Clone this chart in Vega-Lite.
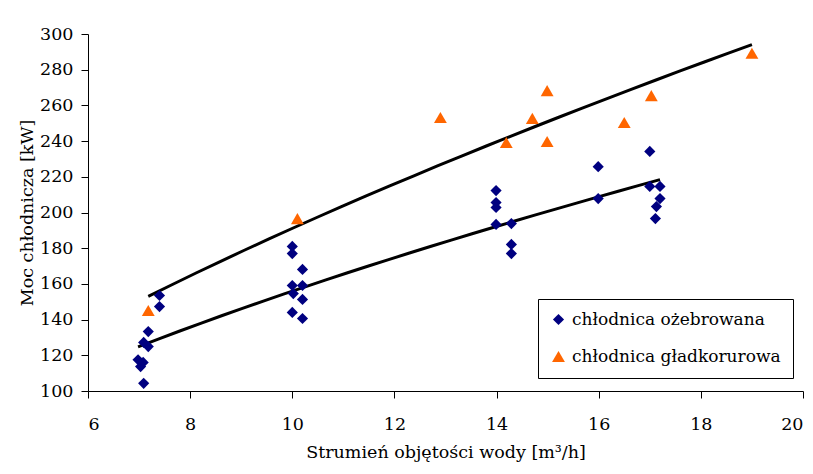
{
  "$schema": "https://vega.github.io/schema/vega-lite/v6.json",
  "width": 715,
  "height": 357,
  "autosize": {"type": "none"},
  "padding": {"left": 88, "top": 34, "right": 10, "bottom": 83},
  "background": "white",
  "config": {
    "view": {"stroke": null},
    "font": "DejaVu Serif",
    "axis": {
      "grid": false,
      "domainColor": "black",
      "tickColor": "black",
      "labelColor": "black",
      "titleColor": "black",
      "labelFont": "DejaVu Serif",
      "titleFont": "DejaVu Serif",
      "labelFontSize": 17.5,
      "titleFontSize": 17.5,
      "titleFontWeight": "normal",
      "tickSize": 7,
      "domainWidth": 1,
      "tickWidth": 1,
      "labelOverlap": false
    },
    "legend": {
      "labelFont": "DejaVu Serif",
      "labelFontSize": 17,
      "labelColor": "black",
      "labelLimit": 0
    }
  },
  "data": {
    "values": [
      {"x": 6.98, "y": 117.5, "seria": "chłodnica ożebrowana"},
      {"x": 7.08, "y": 116, "seria": "chłodnica ożebrowana"},
      {"x": 7.03, "y": 113.7, "seria": "chłodnica ożebrowana"},
      {"x": 7.09, "y": 104.3, "seria": "chłodnica ożebrowana"},
      {"x": 7.18, "y": 133.3, "seria": "chłodnica ożebrowana"},
      {"x": 7.09, "y": 127.2, "seria": "chłodnica ożebrowana"},
      {"x": 7.18, "y": 124.9, "seria": "chłodnica ożebrowana"},
      {"x": 7.4, "y": 153.5, "seria": "chłodnica ożebrowana"},
      {"x": 7.4, "y": 147.3, "seria": "chłodnica ożebrowana"},
      {"x": 10.2, "y": 168.1, "seria": "chłodnica ożebrowana"},
      {"x": 10.0, "y": 159.1, "seria": "chłodnica ożebrowana"},
      {"x": 10.2, "y": 159.1, "seria": "chłodnica ożebrowana"},
      {"x": 10.02, "y": 154.6, "seria": "chłodnica ożebrowana"},
      {"x": 10.2, "y": 151.3, "seria": "chłodnica ożebrowana"},
      {"x": 10.0, "y": 144, "seria": "chłodnica ożebrowana"},
      {"x": 10.2, "y": 140.6, "seria": "chłodnica ożebrowana"},
      {"x": 10.0, "y": 181, "seria": "chłodnica ożebrowana"},
      {"x": 10.0, "y": 177, "seria": "chłodnica ożebrowana"},
      {"x": 13.99, "y": 212.3, "seria": "chłodnica ożebrowana"},
      {"x": 13.99, "y": 205.6, "seria": "chłodnica ożebrowana"},
      {"x": 13.99, "y": 202.8, "seria": "chłodnica ożebrowana"},
      {"x": 13.99, "y": 193.3, "seria": "chłodnica ożebrowana"},
      {"x": 14.29, "y": 193.8, "seria": "chłodnica ożebrowana"},
      {"x": 14.29, "y": 182.1, "seria": "chłodnica ożebrowana"},
      {"x": 14.29, "y": 177, "seria": "chłodnica ożebrowana"},
      {"x": 15.99, "y": 225.7, "seria": "chłodnica ożebrowana"},
      {"x": 15.99, "y": 207.8, "seria": "chłodnica ożebrowana"},
      {"x": 17.0, "y": 234.2, "seria": "chłodnica ożebrowana"},
      {"x": 17.0, "y": 214.6, "seria": "chłodnica ożebrowana"},
      {"x": 17.2, "y": 214.6, "seria": "chłodnica ożebrowana"},
      {"x": 17.2, "y": 207.8, "seria": "chłodnica ożebrowana"},
      {"x": 17.13, "y": 203.3, "seria": "chłodnica ożebrowana"},
      {"x": 17.11, "y": 196.6, "seria": "chłodnica ożebrowana"},
      {"x": 7.18, "y": 145.1, "seria": "chłodnica gładkorurowa"},
      {"x": 10.1, "y": 196.6, "seria": "chłodnica gładkorurowa"},
      {"x": 12.9, "y": 253.2, "seria": "chłodnica gładkorurowa"},
      {"x": 14.99, "y": 268.3, "seria": "chłodnica gładkorurowa"},
      {"x": 14.7, "y": 252.7, "seria": "chłodnica gładkorurowa"},
      {"x": 14.19, "y": 239.2, "seria": "chłodnica gładkorurowa"},
      {"x": 14.99, "y": 239.8, "seria": "chłodnica gładkorurowa"},
      {"x": 17.03, "y": 265.5, "seria": "chłodnica gładkorurowa"},
      {"x": 16.5, "y": 250.4, "seria": "chłodnica gładkorurowa"},
      {"x": 19.0, "y": 289.2, "seria": "chłodnica gładkorurowa"}
    ]
  },
  "layer": [
    {
      "transform": [{"regression": "y", "on": "x", "groupby": ["seria"], "method": "pow"}],
      "mark": {"type": "line", "color": "black", "strokeWidth": 3},
      "encoding": {
        "x": {"field": "x", "type": "quantitative", "scale": {"domain": [6, 20]}},
        "y": {"field": "y", "type": "quantitative", "scale": {"domain": [100, 300]}},
        "detail": {"field": "seria", "type": "nominal"}
      }
    },
    {
      "mark": {"type": "point", "filled": true, "opacity": 1},
      "encoding": {
        "x": {
          "field": "x",
          "type": "quantitative",
          "scale": {"domain": [6, 20], "nice": false, "zero": false},
          "axis": {
            "values": [6, 8, 10, 12, 14, 16, 18, 20],
            "title": "Strumień objętości wody [m³/h]",
            "labelPadding": 17,
            "titlePadding": 11,
            "labelOverlap": false
          }
        },
        "y": {
          "field": "y",
          "type": "quantitative",
          "scale": {"domain": [100, 300], "nice": false, "zero": false},
          "axis": {
            "values": [100, 120, 140, 160, 180, 200, 220, 240, 260, 280, 300],
            "tickCount": 11,
            "title": "Moc chłodnicza [kW]",
            "labelPadding": 8,
            "titlePadding": 3,
            "labelOverlap": false,
            "labelSeparation": 0
          }
        },
        "color": {
          "field": "seria",
          "type": "nominal",
          "scale": {
            "domain": ["chłodnica ożebrowana", "chłodnica gładkorurowa"],
            "range": ["#000080", "#FF6600"]
          },
          "legend": {
            "title": null,
            "orient": "none",
            "legendX": 450,
            "legendY": 265,
            "strokeColor": "black",
            "fillColor": "white",
            "padding": 12,
            "rowPadding": 18,
            "symbolSize": 100,
            "symbolOpacity": 1,
            "labelOffset": 5
          }
        },
        "shape": {
          "field": "seria",
          "type": "nominal",
          "scale": {
            "domain": ["chłodnica ożebrowana", "chłodnica gładkorurowa"],
            "range": ["diamond", "triangle-up"]
          }
        },
        "size": {
          "field": "seria",
          "type": "nominal",
          "scale": {
            "domain": ["chłodnica ożebrowana", "chłodnica gładkorurowa"],
            "range": [125, 165]
          },
          "legend": null
        }
      }
    }
  ]
}
